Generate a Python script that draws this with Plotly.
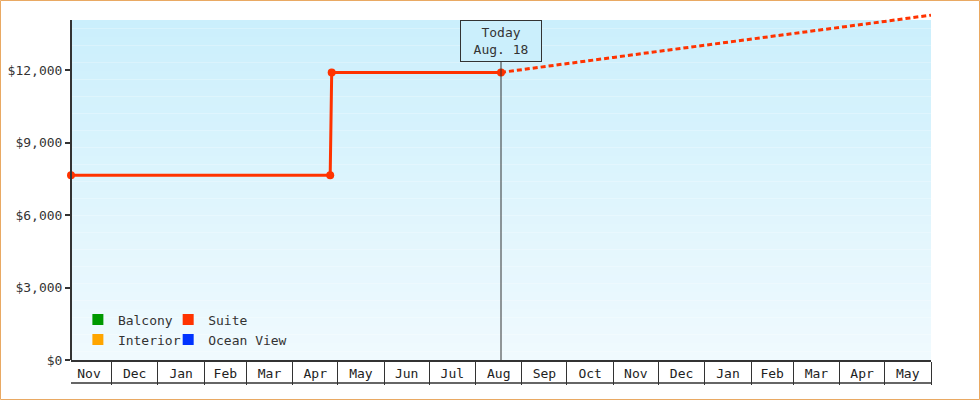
import plotly.graph_objects as go

# cabin price history (Suite only has data)
suite_dates = ["2012-11-04", "2013-04-26", "2013-04-27", "2013-08-18"]
suite_prices = [7650, 7650, 11900, 11900]

# projected price after today
proj_dates = ["2013-08-18", "2013-09-01", "2013-10-01", "2013-11-01", "2013-12-01",
              "2014-01-01", "2014-02-01", "2014-03-01", "2014-04-01", "2014-05-01",
              "2014-06-01"]
proj_prices = [11900, 12010, 12270, 12520, 12770, 13020, 13270, 13500, 13760, 14010, 14270]

cabins = ["Balcony", "Interior", "Suite", "Ocean View"]
cabin_colors = ["#009900", "#ffa500", "#ff3300", "#0033ff"]
cabin_legend = ["legend", "legend", "legend2", "legend2"]

today = "2013-08-18"
today_label = "Today<br>Aug. 18"
y_ticks = [0, 3000, 6000, 9000, 12000]

x_range = ["2012-11-04", "2014-06-01"]
bg_top = 14069
y_top = 14400

fig = go.Figure()

fig.add_trace(go.Scatter(
    x=proj_dates, y=proj_prices, mode="lines",
    line=dict(color="#ff3300", width=3, dash="5px,3px"),
    showlegend=False, hoverinfo="skip",
))
fig.add_trace(go.Scatter(
    x=suite_dates, y=suite_prices, mode="lines+markers",
    line=dict(color="#ff3300", width=3),
    marker=dict(color="#ff3300", size=8),
    cliponaxis=False, showlegend=False,
))

for name, col, lg in zip(cabins, cabin_colors, cabin_legend):
    fig.add_trace(go.Scatter(
        x=[None], y=[None], mode="markers", name=name,
        marker=dict(color=col, symbol="square", size=11),
        legend=lg,
    ))

# gradient background, drawn in bands
shapes = []
n = 40
c0 = (0xf0, 0xfa, 0xfe)
c1 = (0xcb, 0xef, 0xfc)
for i in range(n):
    t = i / (n - 1)
    c = tuple(round(a + (b - a) * t) for a, b in zip(c0, c1))
    shapes.append(dict(
        type="rect", xref="paper", yref="y", layer="below",
        x0=0, x1=1, y0=bg_top * i / n, y1=bg_top * (i + 1) / n,
        fillcolor="rgb(%d,%d,%d)" % c, line=dict(width=0),
    ))

# y axis line (only up to the background top)
shapes.append(dict(type="line", xref="paper", yref="y", x0=0, x1=0, y0=0, y1=bg_top,
                   line=dict(color="#333333", width=2)))
# bottom edge of the month cells
shapes.append(dict(type="line", xref="paper", yref="paper", x0=0, x1=1,
                   y0=-23 / 348, y1=-23 / 348, line=dict(color="#333333", width=1.5)))
# today marker line
shapes.append(dict(type="line", xref="x", yref="y", x0=today, x1=today, y0=0, y1=12414,
                   line=dict(color="#333333", width=1)))
# outer border
shapes.append(dict(type="rect", xref="paper", yref="paper",
                   x0=-70.5 / 860, x1=908.5 / 860, y0=-39.5 / 348, y1=359.5 / 348,
                   line=dict(color="#e9a963", width=1), fillcolor="rgba(0,0,0,0)"))

fig.add_annotation(
    x=today, y=bg_top, yanchor="top", text=today_label, showarrow=False,
    font=dict(size=13, color="#333333"),
    bordercolor="#333333", borderwidth=1, borderpad=3,
    width=74, height=34, bgcolor="#cbeffc",
)

fig.update_layout(
    width=980, height=400,
    margin=dict(l=71, r=49, t=12, b=40),
    paper_bgcolor="white", plot_bgcolor="white",
    font=dict(family="DejaVu Sans Mono", size=13, color="#333333"),
    shapes=shapes,
    xaxis=dict(
        type="date", range=x_range, dtick="M1", tick0="2012-11-01",
        tickformat="%b", ticklabelmode="period",
        ticks="outside", ticklen=23, tickwidth=1, tickcolor="#333333",
        ticklabelstandoff=-23, automargin=False,
        showline=True, linecolor="#333333", linewidth=2,
        showgrid=False, zeroline=False,
        tickfont=dict(size=13, color="#222222"),
    ),
    yaxis=dict(
        range=[0, y_top], tickvals=y_ticks, tickformat="$,.0f",
        ticks="outside", ticklen=5, tickwidth=2, tickcolor="#333333",
        showline=False, showgrid=False, zeroline=False, automargin=False,
        tickfont=dict(size=13, color="#333333"),
    ),
    legend=dict(x=0.008, y=0.159, xanchor="left", yanchor="top",
                bgcolor="rgba(0,0,0,0)", tracegroupgap=0,
                font=dict(size=13, color="#333333")),
    legend2=dict(x=0.113, y=0.159, xanchor="left", yanchor="top",
                 bgcolor="rgba(0,0,0,0)", tracegroupgap=0,
                 font=dict(size=13, color="#333333")),
)

fig.write_html("out.html", config={"displayModeBar": False},
               post_script="document.body.style.margin='0';")
